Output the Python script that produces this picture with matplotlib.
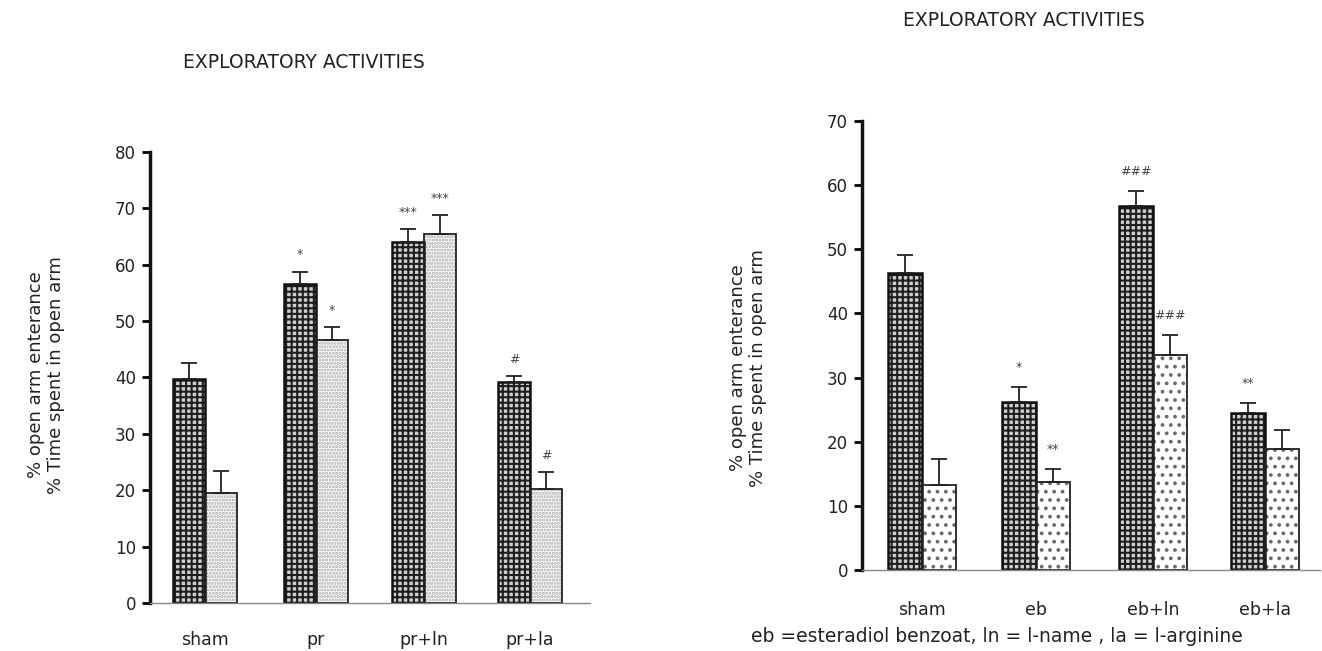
import matplotlib
matplotlib.use("Agg")
import matplotlib.pyplot as plt
import numpy as np

plt.rcParams['font.family'] = ['DejaVu Sans']
plt.rcParams['hatch.linewidth'] = 1.5

# Left panel data
left_groups = ["sham", "pr", "pr+ln", "pr+la"]
left_entrance = [39.8, 56.5, 64.0, 39.2]
left_entrance_err = [2.7, 2.3, 2.3, 1.0]
left_time = [19.5, 46.7, 65.5, 20.2]
left_time_err = [4.0, 2.3, 3.3, 3.0]
left_sig_entrance = ["", "*", "***", "#"]
left_sig_time = ["", "*", "***", "#"]

# Right panel data
right_groups = ["sham", "eb", "eb+ln", "eb+la"]
right_entrance = [46.3, 26.2, 56.8, 24.5]
right_entrance_err = [2.8, 2.4, 2.3, 1.5]
right_time = [13.2, 13.7, 33.5, 18.8]
right_time_err = [4.1, 2.1, 3.2, 3.0]
right_sig_entrance = ["", "*", "###", "**"]
right_sig_time = ["", "**", "###", ""]

title = "EXPLORATORY ACTIVITIES"
ylabel = "% open arm enterance\n% Time spent in open arm"
footnote = "eb =esteradiol benzoat, ln = l-name , la = l-arginine"

fig = plt.figure(figsize=(13.22, 6.51), dpi=100)
TXT = "#222222"


def panel(ax, groups, ent, ent_err, tim, tim_err, sig_e, sig_t, ymax,
          dot_hatch, dot_color, centers, width, sig_off):
    x = np.array(centers)
    n = len(ent)
    # dark grid bars
    ax.bar(x - width / 2, ent, width, color="#cfcfcf", edgecolor="#1e1e1e",
           hatch="+++", linewidth=0, zorder=2)
    ax.bar(x - width / 2, ent, width, fill=False, edgecolor="#111111",
           linewidth=1.8, zorder=2.5)
    # dotted bars
    ax.bar(x + width / 2, tim, width, color="white", edgecolor=dot_color,
           hatch=dot_hatch, linewidth=0, zorder=2)
    ax.bar(x + width / 2, tim, width, fill=False, edgecolor="#222222",
           linewidth=1.3, zorder=2.5)
    ax.errorbar(x - width / 2, ent, yerr=[np.zeros(n), ent_err], fmt="none",
                ecolor="#222222", capsize=6, elinewidth=1.3, capthick=1.3, zorder=3)
    ax.errorbar(x + width / 2, tim, yerr=[np.zeros(n), tim_err], fmt="none",
                ecolor="#222222", capsize=6, elinewidth=1.3, capthick=1.3, zorder=3)
    for xi, v, e, s in zip(x - width / 2, ent, ent_err, sig_e):
        if s:
            ax.text(xi, v + e + sig_off, s, ha="center", va="bottom", fontsize=9,
                    color="#444444")
    for xi, v, e, s in zip(x + width / 2, tim, tim_err, sig_t):
        if s:
            ax.text(xi, v + e + sig_off, s, ha="center", va="bottom", fontsize=9,
                    color="#444444")
    ax.set_ylim(0, ymax)
    ax.set_yticks(np.arange(0, ymax + 1, 10))
    ax.set_xticks(x)
    ax.set_xticklabels(groups, color=TXT)
    ax.spines["top"].set_visible(False)
    ax.spines["right"].set_visible(False)
    ax.spines["left"].set_linewidth(2.5)
    ax.spines["left"].set_color("#111111")
    ax.spines["bottom"].set_linewidth(1.0)
    ax.spines["bottom"].set_color("#888888")
    ax.tick_params(axis="y", direction="out", length=6, width=2, labelsize=12,
                   pad=4, labelcolor=TXT)
    ax.tick_params(axis="x", length=0, labelsize=12.5, pad=20)


# left axes
axL = fig.add_axes([150 / 1322, 1 - 603 / 651, 440 / 1322, (603 - 152) / 651])
axL.set_xlim(0, 440)
panel(axL, left_groups, left_entrance, left_entrance_err, left_time, left_time_err,
      left_sig_entrance, left_sig_time, 80, ".....", "#ababab",
      [55, 166, 274, 380], 32, 1.8)
fig.text(46 / 1322, 1 - 375 / 651, ylabel, rotation=90, ha="center", va="center",
         fontsize=13, linespacing=1.15, color=TXT)
fig.text(304 / 1322, 1 - 63 / 651, title, ha="center", va="center", fontsize=13.5,
         color=TXT)

# right axes
axR = fig.add_axes([862 / 1322, 1 - 570 / 651, 458 / 1322, (570 - 121) / 651])
axR.set_xlim(0, 458)
panel(axR, right_groups, right_entrance, right_entrance_err, right_time, right_time_err,
      right_sig_entrance, right_sig_time, 70, "..", "#6a6a6a",
      [60, 174, 291, 403], 34, 2.0)
axR.tick_params(axis="x", pad=22)
fig.text(748 / 1322, 1 - 368 / 651, ylabel, rotation=90, ha="center", va="center",
         fontsize=13, linespacing=1.15, color=TXT)
fig.text(1024 / 1322, 1 - 21 / 651, title, ha="center", va="center", fontsize=13.5,
         color=TXT)
fig.text(997 / 1322, 1 - 636 / 651, footnote, ha="center", va="center", fontsize=13.5,
         color=TXT)

fig.savefig("out.png", dpi=100)
